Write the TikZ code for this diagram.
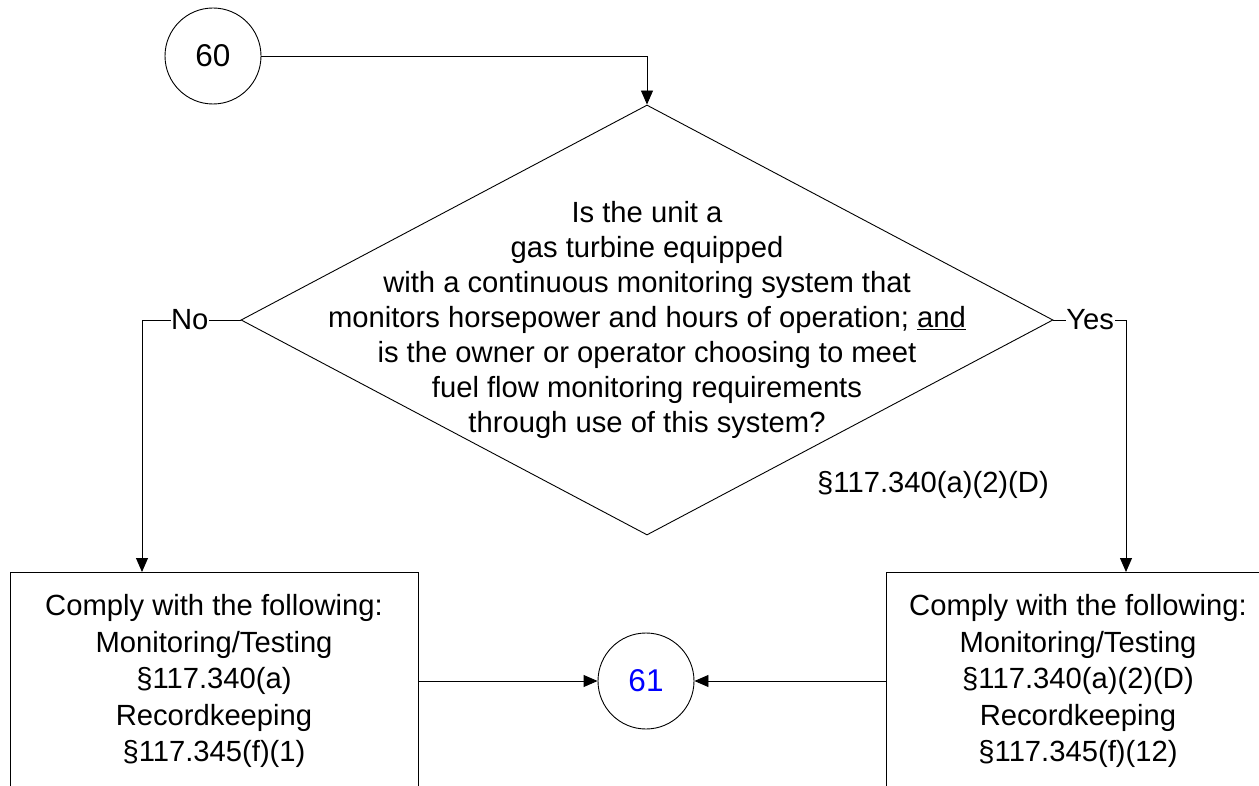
\documentclass[tikz,border=0pt]{standalone}
\usepackage{fontspec}
\setmainfont{Liberation Sans}
\usetikzlibrary{shapes.geometric,arrows.meta}
\definecolor{linkblue}{RGB}{0,0,255}
\tikzset{
  x=1pt, y=-1pt,
  every node/.style={font=\fontsize{29.2}{35}\selectfont},
  line/.style={draw=black, line width=0.9pt},
  arr/.style={line, -{Triangle[length=14pt,width=12pt]}},
  conn/.style={circle, draw=black, line width=0.9pt, minimum size=96pt, inner sep=0pt, font=\fontsize{31.5}{36}\selectfont},
  decision/.style={diamond, draw=black, line width=0.9pt, minimum width=812pt, minimum height=430pt, inner sep=0pt},
  qtext/.style={align=center, inner sep=0pt, font=\fontsize{29.2}{35}\selectfont},
  actbox/.style={rectangle, draw=black, line width=0.9pt, inner sep=0pt, align=center, font=\fontsize{29.2}{36.5}\selectfont},
  lbl/.style={fill=white, inner sep=0.5pt},
}
\begin{document}
\begin{tikzpicture}
\useasboundingbox (0,0) rectangle (1259,786);
\clip (0,0) rectangle (1259,786);

\node[conn] (c60) at (213,56) {60};
\node[decision] (d) at (647,320) {};
\node[qtext] (dt) at (647,320) {Is the unit a\\gas turbine equipped\\with a continuous monitoring system that\\monitors horsepower and hours of operation; \underline{and}\\is the owner or operator choosing to meet\\fuel flow monitoring requirements\\through use of this system?};
\node (ref) at (933,485) {\S117.340(a)(2)(D)};

\node[actbox, minimum width=408pt, minimum height=218pt] (lb) at (214,681) {Comply with the following:\\Monitoring/Testing\\\S117.340(a)\\Recordkeeping\\\S117.345(f)(1)};
\node[actbox, minimum width=384pt, minimum height=218pt] (rb) at (1078,681) {Comply with the following:\\Monitoring/Testing\\\S117.340(a)(2)(D)\\Recordkeeping\\\S117.345(f)(12)};
\node[conn, text=linkblue] (c61) at (646,681) {61};

\coordinate (lbin) at (142,572);
\coordinate (rbin) at (1126,572);

\draw[arr] (c60.east) -- (c60.east -| d.north) -- (d.north);
\draw[arr] (d.west) -- node[lbl, pos=0.515] {No} (d.west -| lbin) -- (lbin);
\draw[arr] (d.east) -- node[lbl, pos=0.507] {Yes} (d.east -| rbin) -- (rbin);
\draw[arr] (lb.east) -- (c61.west);
\draw[arr] (rb.west) -- (c61.east);
\end{tikzpicture}
\end{document}
